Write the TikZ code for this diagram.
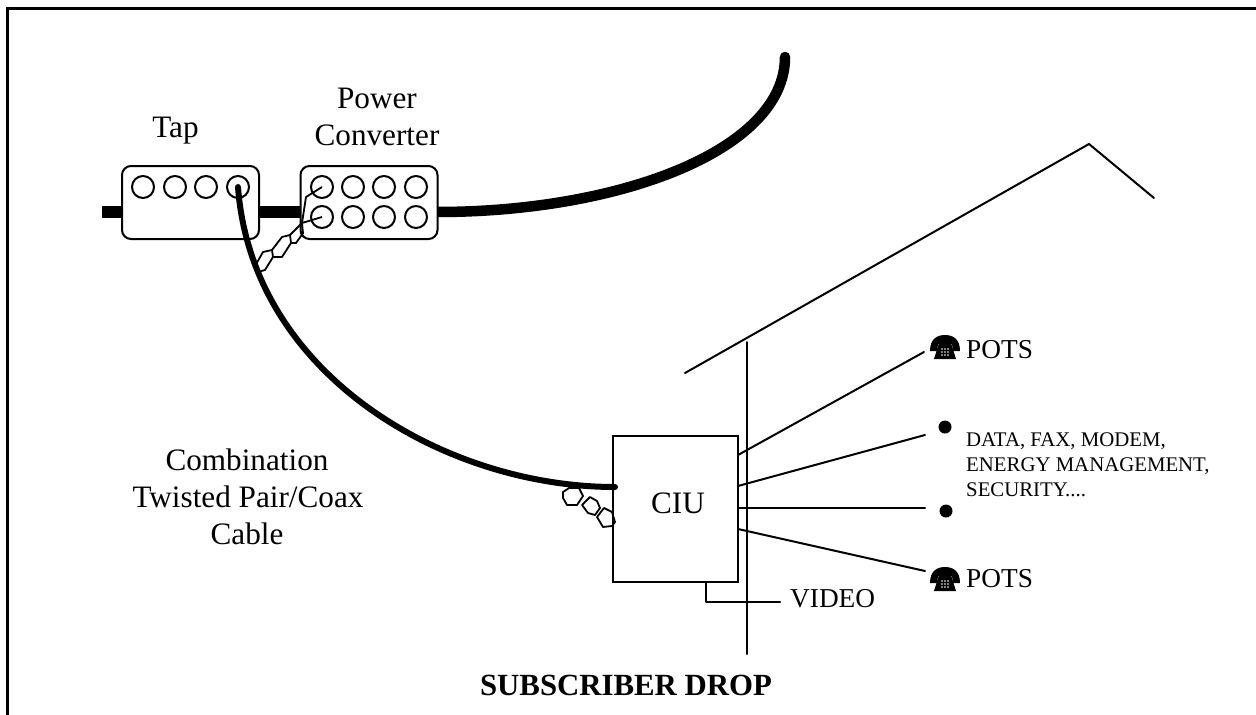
\documentclass[tikz,border=0pt]{standalone}
\usepackage{fontspec}
\setmainfont{Liberation Serif}
\tikzset{
  line/.style={line width=2pt,black,line cap=round,line join=round},
  hexwire/.style={line width=1.8pt,black,line join=round},
  cable/.style={line width=#1,black},
  devbox/.style={draw,line width=2pt,rounded corners=9pt,minimum width=137pt,minimum height=73pt,inner sep=0pt,fill=white},
  port/.style={circle,draw,line width=2pt,minimum size=22pt,inner sep=0pt},
  dotmark/.style={circle,fill=black,minimum size=13pt,inner sep=0pt},
  big/.style={font=\fontsize{31.2}{36}\selectfont,inner sep=0pt,anchor=base},
  mid/.style={font=\fontsize{27.3}{30}\selectfont,inner sep=0pt,anchor=base west},
  small/.style={font=\fontsize{20.8}{25}\selectfont,inner sep=0pt,anchor=base west},
  phoneicon/.pic={
    \fill (-15,-8) .. controls (-15,-20) and (-8,-24) .. (0,-24) .. controls (8,-24) and (15,-20) .. (15,-8)
       -- (8,-8) -- (7,-15) -- (-7,-15) -- (-8,-8) -- cycle;
    \fill (-6,-16) -- (6,-16) -- (11,0) -- (-11,0) -- cycle;
    \foreach \px in {-3,0,3} \foreach \py in {-10,-7,-4} \fill[white] (\px,\py) circle (0.8);
  }
}
\begin{document}
\begin{tikzpicture}[x=1pt,y=-1pt]
\useasboundingbox (0,0) rectangle (1256,715);
% frame
\coordinate (fa) at (7,715); \coordinate (fb) at (7,8); \coordinate (fc) at (1256,8);
\draw[line width=3pt,line join=miter] (fa) -- (fb) -- (fc);
% main cable
\coordinate (c0) at (102,212); \coordinate (c1) at (785,57);
\draw[cable=12pt] (c0) -- (437,212);
\draw[cable=10.5pt,line cap=round] (437,212) .. controls (620,212) and (785,150) .. (c1);
% boxes
\node[devbox] (tap) at (190.5,202.5) {};
\node[devbox] (pc) at (369,202.5) {};
% ports
\foreach \n/\x in {1/143,2/175,3/206,4/238} \node[port] (t\n) at (\x,187) {};
\foreach \n/\x in {1/322,2/353,3/384,4/416} {
  \node[port] (pa\n) at (\x,187) {};
  \node[port] (pb\n) at (\x,217) {};
}
% twisted pair at the tap
\draw[hexwire] (255,266) -- (263,252) -- (272,250) -- (273,257) -- (265,270) -- (258,272) -- cycle;
\draw[hexwire] (272,250) -- (282,237) -- (290,235) -- (291,243) -- (282,257) -- (273,257);
\draw[hexwire] (290,235) -- (302,223) -- (303,233.3) -- (296,243) -- (291,243);
\coordinate (tw) at (302,223);
\draw[hexwire] (tw) -- (306,197) -- (pa1.center);
\draw[hexwire] (tw) -- (pb1.center);
% CIU
\node[draw,line width=2pt,minimum width=125pt,minimum height=146pt,inner sep=0pt] (ciu) at (675.5,509) {};
\node[big] (ciut) at (678,513) {CIU};
% drop cable
\coordinate (d1) at (615,487);
\draw[cable=6pt,line cap=round] (t4.center) .. controls (252,375) and (445,487) .. (d1);
% twisted pair at CIU
\draw[hexwire] (563,492) -- (569,488) -- (579,488) -- (583,496) -- (577,505) -- (567,505) -- (563,498) -- cycle;
\draw[hexwire] (582,505) -- (590,497) -- (597,501) -- (600,508) -- (595,515) -- (588,513) -- cycle;
\draw[hexwire] (597,517) -- (604,508) -- (612,512) -- (615,522) -- (612,526) -- (603,527) -- cycle;
% house
\coordinate (r1) at (685,373); \coordinate (r2) at (1089,144); \coordinate (r3) at (1154,198);
\draw[line] (r1) -- (r2) -- (r3);
\coordinate (w1) at (747,342); \coordinate (w2) at (747,654);
\draw[line] (w1) -- (w2);
% service lines
\coordinate (s1) at (738,455); \coordinate (e1) at (924,352);
\coordinate (s2) at (738,486); \coordinate (e2) at (925,435);
\coordinate (s3) at (738,508); \coordinate (e3) at (925,508);
\coordinate (s4) at (738,529); \coordinate (e4) at (925,571);
\draw[line] (s1) -- (e1);
\draw[line] (s2) -- (e2);
\draw[line] (s3) -- (e3);
\draw[line] (s4) -- (e4);
% video
\coordinate (v0) at (706,582); \coordinate (v1) at (706,602); \coordinate (v2) at (780,602);
\draw[line] (v0) -- (v1) -- (v2);
\node[mid] (video) at (790,607) {VIDEO};
% end marks
\node[dotmark] (dot1) at (945,427) {};
\node[dotmark] (dot2) at (946,511) {};
\pic at (945,359) {phoneicon};
\pic at (945,591) {phoneicon};
\node[mid] (pots1) at (966,358) {POTS};
\node[mid] (pots2) at (966,587) {POTS};
\node[small] (d1t) at (966,446) {DATA, FAX, MODEM,};
\node[small] (d2t) at (966,471) {ENERGY MANAGEMENT,};
\node[small] (d3t) at (966,496) {SECURITY....};
% labels
\node[big] (taplab) at (175.5,137) {Tap};
\node[big] (pw) at (377,108) {Power};
\node[big] (cv) at (377,145) {Converter};
\node[big] (cl1) at (247,470) {Combination};
\node[big] (cl2) at (248,507) {Twisted Pair/Coax};
\node[big] (cl3) at (247,544) {Cable};
\node[big,font=\fontsize{30.8}{34}\selectfont\bfseries] (sd) at (626,695) {SUBSCRIBER DROP};
\end{tikzpicture}
\end{document}
